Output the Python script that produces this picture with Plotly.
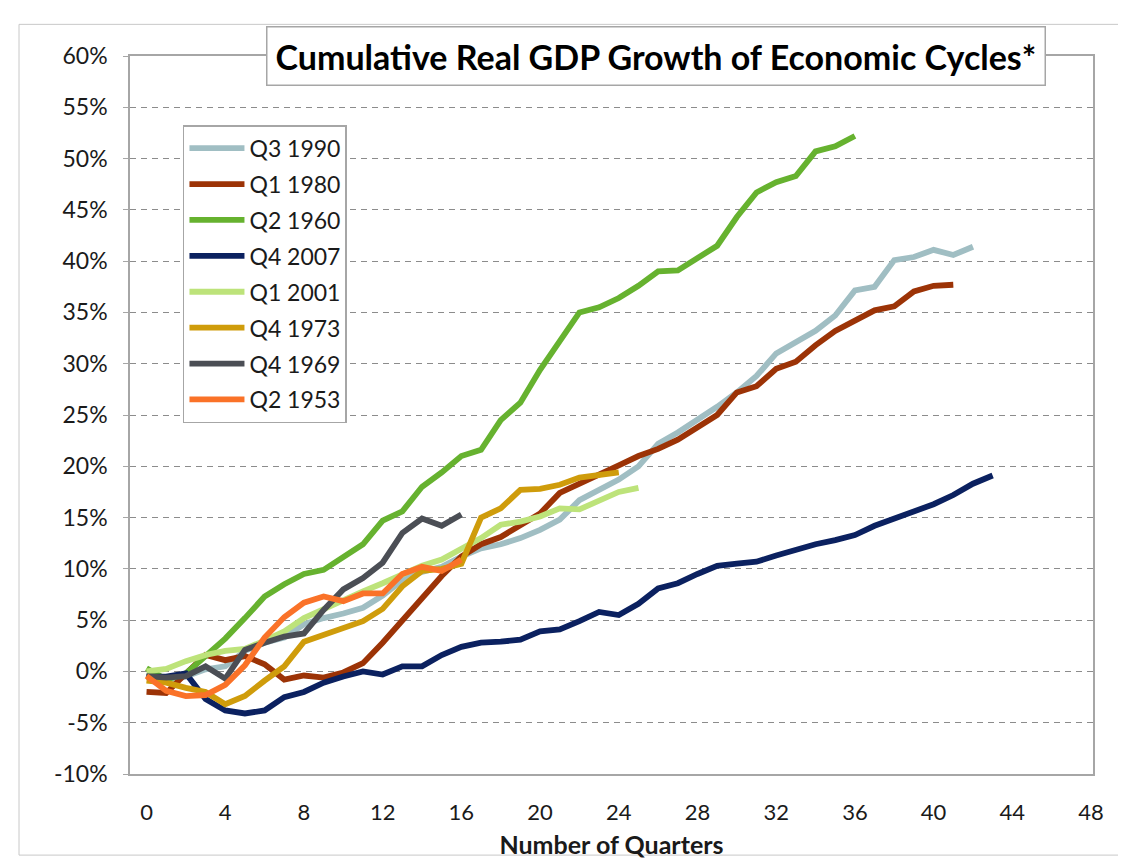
import plotly.graph_objects as go

# ---- data (cumulative real GDP growth, %) ----
series_names = ["Q3 1990", "Q1 1980", "Q2 1960", "Q4 2007", "Q1 2001", "Q4 1973", "Q4 1969", "Q2 1953"]

q3_1990 = [-0.3, -1.0, -0.5, 0.2, 0.5, 2.0, 2.8, 3.3, 4.6, 5.2,
           5.65, 6.2, 7.4, 8.9, 9.7, 10.2, 11.2, 12.0, 12.4, 13.0,
           13.8, 14.8, 16.7, 17.7, 18.7, 20.0, 22.2, 23.3, 24.5, 25.8,
           27.2, 28.8, 31.0, 32.1, 33.2, 34.7, 37.15, 37.5, 40.1, 40.4,
           41.1, 40.6, 41.4]
q1_1980 = [-2.0, -2.1, -0.2, 1.6, 1.1, 1.5, 0.7, -0.8, -0.4, -0.6,
           -0.1, 0.8, 2.8, 5.0, 7.1, 9.3, 11.2, 12.4, 13.1, 14.2,
           15.4, 17.4, 18.35, 19.3, 20.1, 21.0, 21.7, 22.6, 23.8, 25.0,
           27.2, 27.8, 29.5, 30.2, 31.8, 33.2, 34.2, 35.2, 35.6, 37.05,
           37.6, 37.7]
q2_1960 = [0.3, -0.8, -0.2, 1.5, 3.2, 5.2, 7.3, 8.5, 9.5, 9.9,
           11.1, 12.4, 14.7, 15.6, 18.0, 19.4, 21.0, 21.6, 24.5, 26.2,
           29.4, 32.1, 35.0, 35.5, 36.4, 37.6, 39.0, 39.1, 40.3, 41.5,
           44.3, 46.7, 47.7, 48.3, 50.7, 51.2, 52.2]
q4_2007 = [-0.5, -0.5, -0.2, -2.7, -3.8, -4.1, -3.8, -2.5, -2.0, -1.1,
           -0.5, 0.0, -0.3, 0.5, 0.5, 1.6, 2.4, 2.8, 2.9, 3.1,
           3.9, 4.1, 4.9, 5.8, 5.5, 6.6, 8.1, 8.6, 9.5, 10.3,
           10.5, 10.7, 11.3, 11.9, 12.4, 12.8, 13.3, 14.2, 14.9, 15.6,
           16.3, 17.2, 18.3, 19.1]
q1_2001 = [0.0, 0.25, 1.0, 1.6, 2.0, 2.2, 3.0, 3.9, 5.2, 6.1,
           7.0, 7.8, 8.6, 9.5, 10.3, 10.9, 11.9, 13.0, 14.3, 14.6,
           15.1, 15.9, 15.8, 16.6, 17.5, 17.9]
q4_1973 = [-0.9, -1.1, -1.6, -2.0, -3.2, -2.4, -0.9, 0.5, 2.9, 3.6,
           4.2, 4.9, 6.1, 8.3, 9.8, 10.0, 10.5, 15.0, 15.9, 17.7,
           17.8, 18.2, 18.9, 19.15, 19.4]
q4_1969 = [-0.45, -0.6, -0.45, 0.5, -0.7, 2.1, 2.8, 3.4, 3.7, 6.0,
           8.0, 9.1, 10.6, 13.5, 14.9, 14.2, 15.3]
q2_1953 = [-0.45, -1.9, -2.4, -2.3, -1.3, 0.6, 3.3, 5.3, 6.7, 7.3,
           6.85, 7.6, 7.6, 9.5, 10.2, 9.8, 10.9]

series_values = [q3_1990, q1_1980, q2_1960, q4_2007, q1_2001, q4_1973, q4_1969, q2_1953]
series_colors = ["#a0bec3", "#9c3306", "#66b22f", "#0b2160", "#bde37a", "#cf9c0b", "#4b4e55", "#fa7228"]

x_tick_values = list(range(0, 49, 4))
y_tick_values = list(range(-10, 61, 5))
y_tick_labels = [f"{v}%" for v in y_tick_values]

FONT = "Lato, 'Open Sans', sans-serif"
GREY = "#a6a6a6"

fig = go.Figure()
for name, vals, color in zip(series_names, series_values, series_colors):
    fig.add_trace(go.Scatter(
        x=list(range(len(vals))), y=vals, mode="lines", name=name,
        legendgroup=name,
        line=dict(color=color, width=5.8),
    ))

fig.update_layout(
    width=1126, height=859,
    margin=dict(l=122, r=41, t=48, b=85),
    paper_bgcolor="white", plot_bgcolor="white",
    font=dict(family=FONT, size=22, color="#1a1a1a"),
    showlegend=True,
    legend=dict(
        x=0.055, y=0.9036, xanchor="left", yanchor="top",
        bordercolor=GREY, borderwidth=1.5, bgcolor="white",
        font=dict(family=FONT, size=23, color="#1a1a1a"),
        tracegroupgap=3, itemwidth=55,
    ),
    xaxis=dict(
        range=[-0.84, 48.1], tickvals=x_tick_values,
        showgrid=False, zeroline=False,
        showline=True, mirror=True, linecolor=GREY, linewidth=1.5,
        ticks="", ticklabelstandoff=18,
        tickfont=dict(family=FONT, size=22),
        title=dict(text="<b>Number of Quarters</b>", font=dict(family=FONT, size=25), standoff=12),
    ),
    xaxis2=dict(
        overlaying="x", anchor="free", position=10 / 70,
        range=[-0.84, 48.1], tickvals=list(range(0, 49)),
        showticklabels=False, ticks="outside", ticklen=7, tickwidth=1.5, tickcolor=GREY,
        showline=True, linecolor=GREY, linewidth=1.5,
        showgrid=False, zeroline=False, layer="below traces",
    ),
    yaxis=dict(
        range=[-10, 60], tickvals=y_tick_values, ticktext=y_tick_labels,
        showgrid=True, gridcolor="#8c8c8c", gridwidth=1.3, griddash="6px,5px",
        zeroline=False,
        showline=True, mirror=True, linecolor=GREY, linewidth=1.5,
        ticks="outside", ticklen=5, tickcolor=GREY,
        ticklabelstandoff=11,
        tickfont=dict(family=FONT, size=23),
    ),
    annotations=[dict(
        text="<b>Cumulative Real GDP Growth of Economic Cycles*</b>",
        x=0.5457, y=1.0, xref="paper", yref="paper",
        xanchor="center", yanchor="middle", showarrow=False,
        bordercolor=GREY, borderwidth=1.5, borderpad=8, bgcolor="white",
        font=dict(family=FONT, size=34, color="black"),
    )],
    shapes=[dict(
        type="rect", xref="paper", yref="paper",
        x0=(11 - 122) / 963, x1=(1113 - 122) / 963,
        y0=(774 - 856) / 726, y1=(774 - 16) / 726,
        line=dict(color="#c8c8c8", width=1), layer="below",
    )],
)

fig.write_html("out.html")
